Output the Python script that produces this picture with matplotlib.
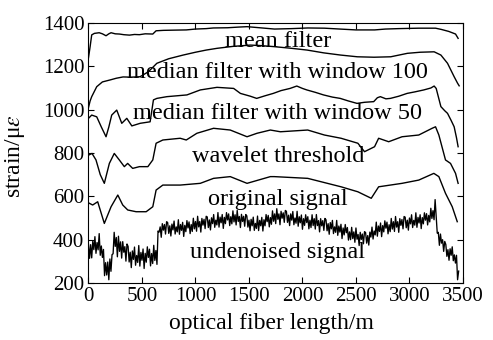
import numpy as np
import matplotlib.pyplot as plt

plt.rcParams['font.family'] = 'Liberation Serif'
plt.rcParams['mathtext.fontset'] = 'stix'

# strain along the fibre, x in m, strain in microstrain
mean_x = [0, 15, 30, 55, 100, 130, 164, 190, 211, 250, 289, 330, 383, 430, 476, 530,
          601, 632, 700, 800, 914, 1000, 1100, 1167, 1300, 1400, 1482, 1600, 1738,
          1900, 2050, 2206, 2350, 2500, 2675, 2775, 2900, 3087, 3244, 3300, 3368,
          3431, 3455]
mean_y = [1240, 1290, 1345, 1352, 1355, 1350, 1341, 1350, 1355, 1350, 1349, 1346,
          1344, 1347, 1346, 1350, 1349, 1364, 1366, 1367, 1368, 1372, 1374, 1377,
          1378, 1381, 1383, 1378, 1372, 1374, 1377, 1376, 1372, 1368, 1368, 1372,
          1374, 1376, 1376, 1370, 1361, 1349, 1329]

med100_x = [0, 15, 30, 77, 130, 201, 260, 323, 400, 482, 560, 639, 750, 885, 1000,
            1100, 1201, 1350, 1513, 1600, 1731, 1900, 2044, 2200, 2356, 2513, 2669,
            2825, 2981, 3100, 3231, 3294, 3356, 3418, 3450, 3465]
med100_y = [1010, 1040, 1060, 1106, 1128, 1137, 1145, 1151, 1150, 1152, 1175, 1214,
            1235, 1252, 1265, 1275, 1283, 1292, 1298, 1296, 1291, 1283, 1275, 1262,
            1252, 1244, 1242, 1244, 1260, 1265, 1267, 1252, 1214, 1152, 1122, 1110]

med50_x = [0, 30, 77, 120, 164, 190, 217, 264, 311, 358, 405, 483, 576, 607, 639,
           733, 920, 1045, 1201, 1357, 1420, 1513, 1572, 1650, 1727, 1800, 1884, 1947,
           2000, 2041, 2120, 2197, 2280, 2353, 2430, 2510, 2580, 2666, 2700, 2728,
           2780, 2822, 2900, 2978, 3050, 3134, 3200, 3231, 3250, 3294, 3330, 3356,
           3390, 3418, 3440, 3455]
med50_y = [960, 975, 967, 920, 875, 920, 975, 998, 937, 960, 925, 937, 944, 1045, 1052,
           1060, 1068, 1091, 1103, 1098, 1075, 1062, 1052, 1064, 1075, 1088, 1098, 1109,
           1098, 1091, 1080, 1068, 1058, 1052, 1040, 1029, 1034, 1037, 1055, 1060,
           1050, 1052, 1062, 1075, 1082, 1091, 1100, 1109, 1098, 1014, 995, 983,
           950, 921, 870, 829]

wave_x = [0, 33, 70, 110, 148, 195, 241, 288, 335, 366, 413, 476, 555, 601, 632, 695,
          857, 914, 1013, 1169, 1325, 1482, 1575, 1700, 1794, 2049, 2205, 2361, 2518,
          2580, 2674, 2712, 2806, 2931, 3087, 3212, 3244, 3275, 3337, 3384, 3431, 3455]
wave_y = [790, 798, 768, 700, 660, 752, 798, 768, 737, 752, 729, 737, 737, 768, 845,
          860, 868, 860, 891, 914, 906, 875, 891, 906, 898, 906, 883, 868, 845, 806,
          829, 868, 852, 875, 883, 914, 921, 883, 768, 752, 706, 660]

orig_x = [0, 39, 86, 148, 211, 274, 320, 367, 445, 539, 601, 632, 695, 857, 1045,
          1169, 1325, 1482, 1700, 1736, 2049, 2361, 2518, 2643, 2712, 2931, 3087,
          3228, 3275, 3337, 3400, 3447]
orig_y = [570, 560, 575, 475, 552, 606, 560, 537, 529, 529, 552, 629, 652, 652, 660,
          683, 691, 660, 691, 691, 683, 644, 621, 591, 644, 660, 675, 706, 691, 614,
          552, 483]

# undenoised signal, one sample every 10 m
raw_step = 10
raw_y = [379, 314, 377, 316, 393, 354, 414, 337, 387, 353, 428, 328, 371, 318, 355,
         234, 294, 237, 297, 215, 311, 254, 331, 335, 434, 369, 410, 321, 416, 346,
         390, 315, 391, 342, 368, 301, 380, 369, 297, 342, 271, 348, 309, 366, 282,
         327, 295, 373, 278, 341, 305, 357, 267, 337, 296, 367, 318, 356, 279, 336,
         290, 374, 304, 350, 286,
         440, 435, 459, 411, 474, 444, 470, 426, 483, 479, 429, 464, 417, 472, 445,
         486, 426, 459, 436, 492, 425, 470, 443, 480, 415, 466, 437, 488, 454, 482,
         428, 470, 438, 499, 450, 484, 439, 508, 459, 484, 435, 498, 467, 494, 451,
         508, 505, 456, 491, 445, 501, 474, 516, 457, 490, 468, 525, 458, 504, 478,
         516, 452, 503, 474, 525, 491, 519, 465, 506, 473, 533, 482, 515, 468, 535,
         484, 507, 456, 517, 484, 508, 462, 516, 510, 458, 490, 441, 494, 464, 504,
         443, 475, 452, 509, 442, 489, 464, 503, 440, 492, 464, 516, 483, 512, 459,
         502, 471, 533, 485, 519, 474, 543, 494, 519, 469, 531, 499, 524, 480, 535,
         531, 480, 513, 465, 519, 490, 530, 469, 500, 476, 531, 462, 506, 478, 514,
         448, 497, 466, 515, 479, 506, 450, 490, 456, 515, 465, 497, 449, 516, 465,
         488, 436, 497, 464, 488, 443, 498, 492, 441, 474, 425, 479, 450, 489, 428,
         459, 434, 489, 420, 463, 435, 471, 405, 454, 422, 470, 432, 456, 398, 436,
         400, 457, 405, 436, 388, 454, 402, 424, 373, 434, 401, 426, 381, 437, 433,
         384, 419, 375, 435, 412, 458, 403, 440, 422, 481, 416, 463, 438, 477, 414,
         465, 436, 487, 453, 481, 427, 469, 437, 498, 449, 483, 438, 507, 458, 483,
         434, 497, 466, 493, 450, 507, 504, 455, 490, 444, 500, 473, 515, 456, 489,
         467, 524, 457, 503, 477, 515, 451, 502, 473, 524, 490, 520, 468, 512, 482,
         545, 498, 534, 492, 585, 510, 430, 434, 374, 426, 384, 400, 346, 392, 378,
         323, 354, 305, 358, 328, 367, 303, 330, 292, 328, 215, 255]
raw_x = np.arange(len(raw_y)) * raw_step

labels = ['mean filter', 'median filter with window 100',
          'median filter with window 50', 'wavelet threshold',
          'original signal', 'undenoised signal']
label_y = [1291, 1147, 955, 760, 560, 315]
label_x = 1770

fig, ax = plt.subplots(figsize=(4.93, 3.40), dpi=100)
fig.subplots_adjust(left=0.1795, right=0.939, bottom=0.1676, top=0.9324)

ax.plot(raw_x, raw_y, color='black', lw=0.95)
for xs, ys in [(mean_x, mean_y), (med100_x, med100_y), (med50_x, med50_y),
               (wave_x, wave_y), (orig_x, orig_y)]:
    ax.plot(xs, ys, color='black', lw=1.0)

for txt, y in zip(labels, label_y):
    ax.text(label_x, y, txt, ha='center', va='baseline', fontsize=17.5)

ax.set_xlim(0, 3500)
ax.set_ylim(200, 1400)
ax.set_xticks(range(0, 3501, 500))
ax.set_yticks(range(200, 1401, 200))
ax.tick_params(direction='in', top=True, right=True, length=4, width=0.8,
               labelsize=15, pad=3)
for sp in ax.spines.values():
    sp.set_linewidth(0.8)

ax.set_xlabel('optical fiber length/m', fontsize=17)
ax.set_ylabel(r'strain/μ$\varepsilon$', fontsize=17)
ax.xaxis.set_label_coords(0.489, -0.115)
ax.yaxis.set_label_coords(-0.165, 0.488)

fig.savefig('out.png', dpi=100)
